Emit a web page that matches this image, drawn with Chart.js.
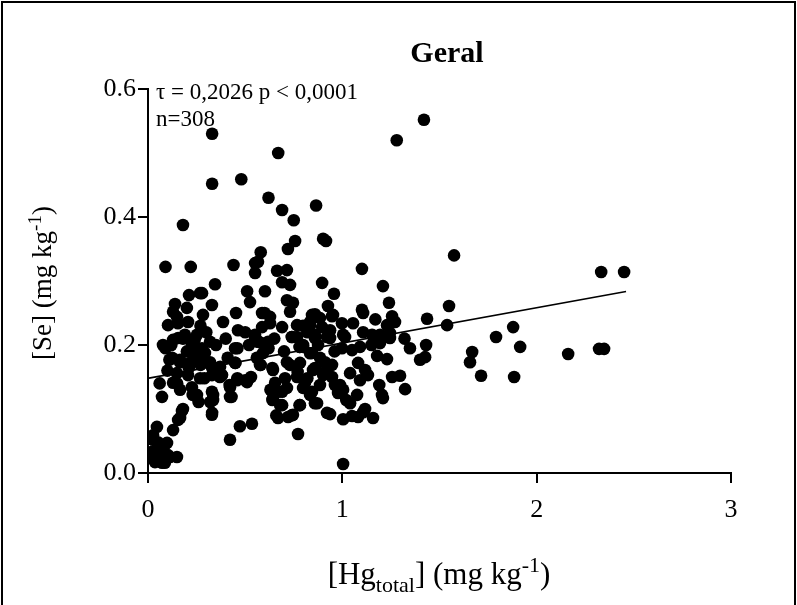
<!DOCTYPE html>
<html>
<head>
<meta charset="utf-8">
<script src="https://cdn.jsdelivr.net/npm/chart.js@4"></script>
<style>
  html, body { margin: 0; padding: 0; background: #fff; }
  #wrap { width: 797px; height: 605px; position: relative; }
</style>
</head>
<body>
<div id="wrap"><canvas id="myChart" width="797" height="605"></canvas></div>
<script>
// values: [Hg total] (x) and [Se] (y), mg/kg
var hgValues = [
  0.33, 1.42, 1.28, 0.48, 0.33, 0.67, 0.62, 0.69, 0.75, 0.865,
  0.18, 0.44, 0.09, 0.22, 0.757, 0.72, 0.58, 0.566, 0.551, 0.551,
  0.664, 0.715, 0.69, 0.731, 0.345, 0.51, 0.602, 0.211, 0.268, 0.278,
  0.525, 0.329, 0.715, 0.746, 0.139, 0.2, 0.129, 0.149, 0.283, 0.453,
  0.731, 0.386, 0.587, 0.628, 0.844, 0.885, 0.926, 0.952, 0.916, 0.901,
  1.575, 1.101, 0.896, 1.209, 0.957, 1.24, 1.101, 1.107, 1.549, 0.859,
  0.947, 1.256, 1.271, 1.436, 1.539, 0.798, 0.834, 0.998, 1.055, 1.23,
  0.937, 1.107, 1.153, 1.194, 1.245, 0.859, 1.004, 2.332, 2.45, 1.879,
  1.915, 1.791, 2.162, 2.321, 2.347, 1.884, 1.668, 1.657, 1.714, 1.431,
  1.348, 1.4, 1.426, 1.323, 1.297, 1.256, 1.209, 1.204, 1.158, 1.117,
  1.081, 1.004, 0.937, 1.004, 0.772, 0.859, 1.05, 1.107, 1.19, 1.02,
  1.04, 1.076, 1.081, 1.117, 1.132, 1.091, 1.04, 0.988, 0.962, 1.004,
  0.978, 0.998, 1.05, 1.091, 0.859, 0.937, 1.014, 1.194, 1.245, 1.179,
  1.23, 0.798, 0.834, 0.885, 0.947, 0.911, 0.859, 0.82, 0.798, 0.834,
  0.901, 0.947, 0.885, 0.046, 0.129, 0.026, 0.051, 0.087, 0.021, 0.051,
  0.103, 0.149, 0.036, 0.087, 0.175, 0.165, 0.155, 0.072, 0.473, 0.535,
  0.422, 0.01, 0.036, 0.072, 0.113, 0.077, 0.026, 0.051, 0.098, 0.103,
  0.154, 0.206, 0.463, 0.587, 0.628, 0.69, 0.767, 0.834, 0.896, 0.077,
  0.129, 0.19, 0.252, 0.319, 0.226, 0.278, 0.293, 0.448, 0.551, 0.602,
  0.592, 0.767, 0.798, 0.844, 0.875, 0.921, 0.124, 0.165, 0.216, 0.268,
  0.319, 0.371, 0.448, 0.576, 0.643, 0.715, 0.782, 0.849, 0.911, 0.149,
  0.206, 0.268, 0.329, 0.381, 0.129, 0.165, 0.226, 0.252, 0.329, 0.335,
  0.422, 0.458, 0.51, 0.422, 0.654, 0.669, 0.715, 0.643, 0.69, 0.669,
  0.721, 0.746, 0.767, 0.808, 0.844, 0.782, 0.87, 0.921, 0.18, 0.329,
  0.618, 0.566, 0.551, 0.741, 0.782, 0.15, 0.23, 0.26, 0.32, 0.33,
  0.335, 0.42, 0.43, 0.46, 0.50, 0.46, 0.45, 0.37, 0.29, 0.33,
  0.27, 0.21, 0.165, 0.11, 0.09, 0.155, 0.26, 0.24, 0.38, 0.64,
  0.66, 0.74, 0.68, 0.69, 0.705, 0.78, 0.73, 0.77, 0.64, 0.58,
  0.62, 0.57, 0.78, 0.74, 0.06, 0.10, 0.20, 0.24, 0.30, 0.35,
  0.40, 0.50, 0.52, 0.56, 0.60, 0.65, 0.70, 0.82, 0.96, 1.15,
  1.17, 1.32, 0.12, 0.18, 0.27, 0.41, 0.53, 0.63
];
var seValues = [
  0.53, 0.552, 0.52, 0.459, 0.452, 0.50, 0.43, 0.411, 0.395, 0.418,
  0.3875, 0.325, 0.322, 0.322, 0.3625, 0.35, 0.345, 0.33, 0.328, 0.3125,
  0.316, 0.317, 0.298, 0.294, 0.295, 0.284, 0.284, 0.278, 0.281, 0.281,
  0.267, 0.2625, 0.27, 0.266, 0.264, 0.258, 0.252, 0.244, 0.247, 0.25,
  0.252, 0.236, 0.25, 0.244, 0.247, 0.242, 0.261, 0.247, 0.3625, 0.366,
  0.34, 0.319, 0.297, 0.292, 0.28, 0.266, 0.255, 0.25, 0.261, 0.248,
  0.245, 0.245, 0.236, 0.241, 0.231, 0.23, 0.231, 0.234, 0.234, 0.231,
  0.223, 0.22, 0.216, 0.216, 0.219, 0.216, 0.216, 0.314, 0.314, 0.228,
  0.197, 0.2125, 0.186, 0.194, 0.194, 0.15, 0.189, 0.173, 0.152, 0.2,
  0.195, 0.177, 0.181, 0.131, 0.152, 0.15, 0.117, 0.122, 0.086, 0.1,
  0.0875, 0.084, 0.092, 0.014, 0.061, 0.109, 0.089, 0.095, 0.1375, 0.114,
  0.109, 0.122, 0.172, 0.161, 0.153, 0.145, 0.156, 0.1375, 0.1375, 0.13,
  0.125, 0.195, 0.192, 0.197, 0.211, 0.211, 0.2125, 0.203, 0.211, 0.183,
  0.178, 0.197, 0.187, 0.18, 0.169, 0.158, 0.164, 0.148, 0.133, 0.122,
  0.153, 0.15, 0.1375, 0.072, 0.067, 0.059, 0.048, 0.044, 0.033, 0.028,
  0.028, 0.025, 0.017, 0.016, 0.097, 0.086, 0.083, 0.119, 0.073, 0.077,
  0.052, 0.028, 0.02, 0.016, 0.025, 0.031, 0.052, 0.041, 0.047, 0.231,
  0.234, 0.236, 0.223, 0.228, 0.234, 0.228, 0.231, 0.236, 0.228, 0.2,
  0.208, 0.216, 0.216, 0.205, 0.2, 0.195, 0.1875, 0.195, 0.211, 0.2,
  0.1875, 0.2125, 0.2, 0.1875, 0.2, 0.2125, 0.18, 0.173, 0.172, 0.177,
  0.173, 0.166, 0.172, 0.169, 0.161, 0.173, 0.172, 0.161, 0.173, 0.156,
  0.153, 0.148, 0.153, 0.153, 0.141, 0.13, 0.134, 0.122, 0.127, 0.114,
  0.134, 0.145, 0.142, 0.119, 0.141, 0.127, 0.133, 0.117, 0.106, 0.086,
  0.0875, 0.091, 0.15, 0.141, 0.127, 0.106, 0.109, 0.094, 0.1, 0.091,
  0.205, 0.205, 0.216, 0.2125, 0.197, 0.14, 0.122, 0.111, 0.111, 0.094,
  0.122, 0.1375, 0.119, 0.148, 0.145, 0.195, 0.172, 0.15, 0.148, 0.164,
  0.169, 0.164, 0.177, 0.177, 0.195, 0.211, 0.189, 0.208, 0.153, 0.114,
  0.09, 0.09, 0.106, 0.127, 0.148, 0.106, 0.169, 0.158, 0.164, 0.169,
  0.195, 0.205, 0.197, 0.2125, 0.14, 0.16, 0.19, 0.185, 0.22, 0.2,
  0.21, 0.22, 0.2, 0.18, 0.25, 0.21, 0.19, 0.22, 0.19, 0.2,
  0.24, 0.21, 0.2, 0.21, 0.23, 0.18, 0.15, 0.13
];

// fitted line
var fitIntercept = 0.148;
var fitSlope = 0.0551;
var fitRange = [0.005, 2.46];

var xTickLabels = ['0', '1', '2', '3'];
var yTickLabels = ['0.0', '0.2', '0.4', '0.6'];

var serif = '"Liberation Serif", "Times New Roman", serif';

var points = hgValues.map(function(x, i) { return { x: x, y: seValues[i] }; });
var fitLine = fitRange.map(function(x) { return { x: x, y: fitIntercept + fitSlope * x }; });

// text with sub/superscripts, drawn part by part
function drawRich(ctx, parts, cx, y, size) {
  var total = 0;
  parts.forEach(function(p) {
    ctx.font = (p.t ? Math.round(size * 0.7) : size) + 'px ' + serif;
    p.w = ctx.measureText(p.s).width;
    total += p.w;
  });
  var x = cx - total / 2;
  parts.forEach(function(p) {
    ctx.font = (p.t ? Math.round(size * 0.7) : size) + 'px ' + serif;
    var dy = p.t === 'sub' ? size * 0.25 : (p.t === 'sup' ? -size * 0.38 : 0);
    ctx.fillText(p.s, x, y + dy);
    x += p.w;
  });
}

var decor = {
  id: 'decor',
  afterDraw: function(chart) {
    var ctx = chart.ctx;
    ctx.save();
    ctx.strokeStyle = '#000';
    ctx.lineWidth = 2;
    ctx.beginPath();
    ctx.moveTo(2, 605);
    ctx.lineTo(2, 2);
    ctx.lineTo(795, 2);
    ctx.lineTo(795, 605);
    ctx.stroke();

    ctx.fillStyle = '#000';
    ctx.textBaseline = 'alphabetic';
    ctx.textAlign = 'center';
    ctx.font = 'bold 30px ' + serif;
    ctx.fillText('Geral', 447, 62);

    ctx.textAlign = 'left';
    ctx.font = '23px ' + serif;
    ctx.fillText('\u03c4 = 0,2026 p < 0,0001', 156, 99);
    ctx.fillText('n=308', 156, 126);

    drawRich(ctx, [
      { s: '[Hg' }, { s: 'total', t: 'sub' }, { s: '] (mg kg' }, { s: '-1', t: 'sup' }, { s: ')' }
    ], 439, 584, 31);

    ctx.translate(51, 283);
    ctx.rotate(-Math.PI / 2);
    drawRich(ctx, [
      { s: '[Se] (mg kg' }, { s: '-1', t: 'sup' }, { s: ')' }
    ], 0, 0, 27);
    ctx.restore();
  }
};

var ctx = document.getElementById('myChart').getContext('2d');

// eslint-disable-next-line no-unused-vars
var chart = new Chart(ctx, {
  type: 'scatter',
  data: {
    datasets: [{
      data: points,
      backgroundColor: '#000',
      borderWidth: 0,
      pointRadius: 6.3,
      pointHoverRadius: 6.3
    },
    {
      type: 'line',
      data: fitLine,
      borderColor: '#000',
      borderWidth: 1.6,
      pointRadius: 0,
      fill: false
    }]
  },
  options: {
    responsive: false,
    animation: false,
    events: [],
    layout: { padding: { left: 0, right: 66, top: 89, bottom: 0 } },
    plugins: { legend: { display: false }, tooltip: { enabled: false } },
    scales: {
      x: {
        type: 'linear',
        min: 0,
        max: 3,
        afterFit: function(s) { s.height = 132; },
        afterBuildTicks: function(s) {
          s.ticks = xTickLabels.map(function(t) { return { value: Number(t) }; });
        },
        ticks: {
          color: '#000',
          font: { family: serif, size: 26 },
          padding: 12,
          callback: function(v, i) { return xTickLabels[i]; }
        },
        grid: { drawOnChartArea: false, color: '#000', lineWidth: 2, tickLength: 10 },
        border: { color: '#000', width: 2 }
      },
      y: {
        type: 'linear',
        min: 0,
        max: 0.6,
        afterFit: function(s) { s.width = 148; },
        afterBuildTicks: function(s) {
          s.ticks = yTickLabels.map(function(t) { return { value: Number(t) }; });
        },
        ticks: {
          color: '#000',
          font: { family: serif, size: 26 },
          padding: 2,
          callback: function(v, i) { return yTickLabels[i]; }
        },
        grid: { drawOnChartArea: false, color: '#000', lineWidth: 2, tickLength: 10 },
        border: { color: '#000', width: 2 }
      }
    }
  },
  plugins: [decor]
});
</script>
</body>
</html>
